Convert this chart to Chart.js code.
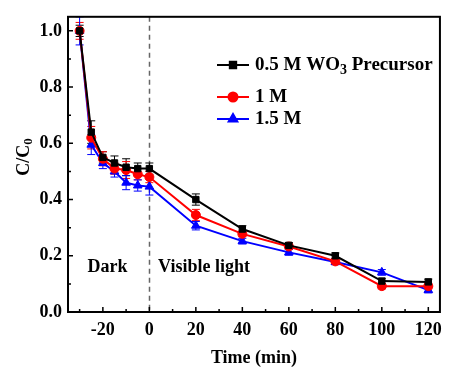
<!DOCTYPE html>
<html>
<head>
<meta charset="utf-8">
<script src="https://cdn.jsdelivr.net/npm/chart.js@4.4.1/dist/chart.umd.min.js"></script>
<style>
  html, body { margin: 0; padding: 0; background: #fff; }
  #wrap { width: 450px; height: 369px; position: relative; }
</style>
</head>
<body>
<div id="wrap"><canvas id="grafico"></canvas></div>
<script>
// tempo (min) e C/C0
const tempoMin = [-30, -25, -20, -15, -10, -5, 0, 20, 40, 60, 80, 100, 120];
const serie05M = [1.0, 0.64, 0.55, 0.53, 0.515, 0.51, 0.51, 0.40, 0.295, 0.237, 0.20, 0.11, 0.107];
const serie1M  = [1.0, 0.62, 0.545, 0.51, 0.505, 0.49, 0.48, 0.345, 0.278, 0.233, 0.18, 0.092, 0.092];
const serie15M = [1.0, 0.595, 0.53, 0.50, 0.46, 0.45, 0.446, 0.307, 0.252, 0.212, 0.178, 0.141, 0.078];
// barras de erro (+/-)
const erro05M = [0.02, 0.04, 0.02, 0.025, 0.03, 0.02, 0.02, 0.02, 0.012, 0.01, 0.01, 0.01, 0.01];
const erro1M  = [0.03, 0.04, 0.025, 0.02, 0.03, 0.02, 0.02, 0.02, 0.01, 0.01, 0.01, 0.01, 0.01];
const erro15M = [0.05, 0.035, 0.02, 0.02, 0.025, 0.02, 0.03, 0.015, 0.01, 0.01, 0.01, 0.01, 0.01];

const xTicksMaiores = [-20, 0, 20, 40, 60, 80, 100, 120];
const xTicksMenores = [-30, -10, 10, 30, 50, 70, 90, 110];
const yTicksMaiores = [0, 0.2, 0.4, 0.6, 0.8, 1.0];
const yTicksMenores = [0.1, 0.3, 0.5, 0.7, 0.9];

const FONTE = '"Liberation Serif", "Times New Roman", serif';

function pontos(ys) {
    return tempoMin.map((t, i) => ({ x: t, y: ys[i] }));
}

const erros = [erro05M, erro1M, erro15M];

// desenha barras de erro, caixa, ticks internos, textos e legenda
const pluginExtras = {
    id: 'extras',
    beforeDatasetsDraw(chart) {
        const ctx = chart.ctx;
        const xs = chart.scales.x, ys = chart.scales.y;
        const area = chart.chartArea;
        ctx.save();
        // linha tracejada em t = 0
        ctx.strokeStyle = '#666';
        ctx.lineWidth = 1.5;
        ctx.setLineDash([5, 4]);
        const x0 = Math.round(xs.getPixelForValue(0)) + 0.5;
        ctx.beginPath();
        ctx.moveTo(x0, area.top);
        ctx.lineTo(x0, area.bottom);
        ctx.stroke();
        ctx.setLineDash([]);
        // barras de erro
        chart.data.datasets.forEach((ds, k) => {
            ctx.strokeStyle = ds.borderColor;
            ctx.lineWidth = 1;
            ds.data.forEach((p, i) => {
                const e = erros[k][i];
                const px = xs.getPixelForValue(p.x);
                const yt = ys.getPixelForValue(p.y + e);
                const yb = ys.getPixelForValue(p.y - e);
                ctx.beginPath();
                ctx.moveTo(px, yt); ctx.lineTo(px, yb);
                ctx.moveTo(px - 4, yt); ctx.lineTo(px + 4, yt);
                ctx.moveTo(px - 4, yb); ctx.lineTo(px + 4, yb);
                ctx.stroke();
            });
        });
        ctx.restore();
    },
    afterDraw(chart) {
        const ctx = chart.ctx;
        const xs = chart.scales.x, ys = chart.scales.y;
        const a = chart.chartArea;
        ctx.save();
        // caixa
        ctx.strokeStyle = '#000';
        ctx.lineWidth = 2;
        ctx.strokeRect(a.left, a.top, a.right - a.left, a.bottom - a.top);
        // ticks para dentro
        ctx.lineWidth = 1.5;
        ctx.beginPath();
        xTicksMaiores.forEach(v => { const p = xs.getPixelForValue(v); ctx.moveTo(p, a.bottom); ctx.lineTo(p, a.bottom - 5); });
        xTicksMenores.forEach(v => { const p = xs.getPixelForValue(v); ctx.moveTo(p, a.bottom); ctx.lineTo(p, a.bottom - 3); });
        yTicksMaiores.forEach(v => { const p = ys.getPixelForValue(v); ctx.moveTo(a.left, p); ctx.lineTo(a.left + 5, p); });
        yTicksMenores.forEach(v => { const p = ys.getPixelForValue(v); ctx.moveTo(a.left, p); ctx.lineTo(a.left + 3, p); });
        ctx.stroke();

        ctx.fillStyle = '#000';
        ctx.font = 'bold 18px ' + FONTE;
        ctx.textBaseline = 'middle';
        ctx.textAlign = 'center';
        ctx.fillText('Dark', xs.getPixelForValue(-18), ys.getPixelForValue(0.16));
        ctx.fillText('Visible light', xs.getPixelForValue(23.5), ys.getPixelForValue(0.16));

        // título do eixo y com subscrito
        ctx.save();
        ctx.translate(24, 157);
        ctx.rotate(-Math.PI / 2);
        ctx.font = 'bold 18px ' + FONTE;
        const wMain = ctx.measureText('C/C').width;
        ctx.font = 'bold 13px ' + FONTE;
        const wSub = ctx.measureText('0').width;
        const x0 = -(wMain + wSub) / 2;
        ctx.textAlign = 'left';
        ctx.font = 'bold 18px ' + FONTE;
        ctx.fillText('C/C', x0, 0);
        ctx.font = 'bold 13px ' + FONTE;
        ctx.fillText('0', x0 + wMain, 5);
        ctx.restore();

        // legenda
        const linhas = [
            { y: 65, partes: [['0.5 M WO', 0], ['3', 1], [' Precursor', 0]] },
            { y: 97, partes: [['1 M', 0]] },
            { y: 119, partes: [['1.5 M', 0]] }
        ];
        chart.data.datasets.forEach((ds, k) => {
            const ly = linhas[k].y;
            ctx.strokeStyle = ds.borderColor;
            ctx.lineWidth = 2;
            ctx.beginPath();
            ctx.moveTo(217, ly); ctx.lineTo(249, ly);
            ctx.stroke();
            ctx.fillStyle = ds.borderColor;
            Chart.helpers.drawPoint(ctx, { pointStyle: ds.pointStyle, radius: ds.pointRadius, borderWidth: 1 }, 233, ly);
            ctx.fillStyle = '#000';
            ctx.textAlign = 'left';
            let tx = 255;
            linhas[k].partes.forEach(([txt, sub]) => {
                ctx.font = (sub ? 'bold 14px ' : 'bold 19px ') + FONTE;
                ctx.fillText(txt, tx, ly + (sub ? 5 : 0));
                tx += ctx.measureText(txt).width;
            });
        });
        ctx.restore();
    }
};

function serie(label, dados, cor, estilo, raio) {
    return {
        label: label,
        data: pontos(dados),
        borderColor: cor,
        backgroundColor: cor,
        borderWidth: 2,
        pointStyle: estilo,
        pointRadius: raio,
        pointBorderWidth: 1,
        pointHoverRadius: raio,
        tension: 0
    };
}

const config = {
    type: 'line',
    data: {
        datasets: [
            serie('0.5 M WO3 Precursor', serie05M, '#000000', 'rect', 4.5),
            serie('1 M', serie1M, '#ff0000', 'circle', 4.5),
            serie('1.5 M', serie15M, '#0000ff', 'triangle', 5)
        ]
    },
    options: {
        responsive: true,
        maintainAspectRatio: false,
        animation: false,
        layout: { padding: { top: 5, right: 4, left: 0, bottom: 0 } },
        plugins: {
            legend: { display: false },
            tooltip: { enabled: false }
        },
        scales: {
            x: {
                type: 'linear',
                min: -35,
                max: 125,
                afterBuildTicks: s => { s.ticks = xTicksMaiores.map(v => ({ value: v })); },
                afterFit: s => { s.height = 57; },
                grid: { display: true, drawOnChartArea: false, drawTicks: false },
                border: { display: false },
                ticks: {
                    padding: 8,
                    color: '#000',
                    maxRotation: 0,
                    font: { family: FONTE, size: 18, weight: 'bold' }
                },
                title: {
                    display: true,
                    text: 'Time (min)',
                    color: '#000',
                    padding: { top: 0, bottom: 0 },
                    font: { family: FONTE, size: 18, weight: 'bold' }
                }
            },
            y: {
                min: 0,
                max: 1.05,
                afterBuildTicks: s => { s.ticks = yTicksMaiores.map(v => ({ value: v })); },
                afterFit: s => { s.width = 68; },
                grid: { display: true, drawOnChartArea: false, drawTicks: false },
                border: { display: false },
                ticks: {
                    padding: 6,
                    color: '#000',
                    callback: v => v.toFixed(1),
                    font: { family: FONTE, size: 18, weight: 'bold' }
                }
            }
        }
    },
    plugins: [pluginExtras]
};

new Chart(document.getElementById('grafico'), config);
</script>
</body>
</html>
